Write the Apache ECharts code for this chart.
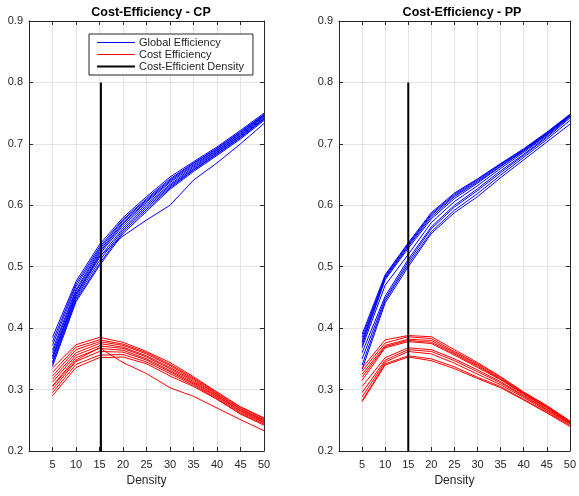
<!DOCTYPE html>
<html>
<head>
<meta charset="utf-8">
<script src="https://cdn.jsdelivr.net/npm/echarts@6/dist/echarts.min.js"></script>
<style>
  html, body { margin: 0; padding: 0; background: #fff; }
  #chart { width: 579px; height: 496px; }
</style>
</head>
<body>
<div id="chart"></div>
<script>
// densities on the x axis
const density = [5, 10, 15, 20, 25, 30, 35, 40, 45, 50];
const yTicks = [0.2, 0.3, 0.4, 0.5, 0.6, 0.7, 0.8, 0.9];

// CP - global efficiency, one row per subject
const globalCP = [
  [0.385, 0.476, 0.536, 0.580, 0.614, 0.646, 0.671, 0.695, 0.722, 0.750],
  [0.378, 0.472, 0.532, 0.577, 0.611, 0.643, 0.669, 0.693, 0.720, 0.748],
  [0.372, 0.468, 0.529, 0.575, 0.609, 0.641, 0.668, 0.692, 0.719, 0.747],
  [0.365, 0.463, 0.526, 0.572, 0.607, 0.639, 0.666, 0.690, 0.717, 0.746],
  [0.360, 0.460, 0.523, 0.570, 0.605, 0.637, 0.664, 0.689, 0.716, 0.745],
  [0.355, 0.456, 0.520, 0.567, 0.602, 0.634, 0.662, 0.687, 0.714, 0.744],
  [0.350, 0.452, 0.515, 0.563, 0.599, 0.632, 0.660, 0.686, 0.713, 0.742],
  [0.345, 0.449, 0.510, 0.560, 0.596, 0.630, 0.658, 0.684, 0.711, 0.741],
  [0.342, 0.446, 0.505, 0.557, 0.593, 0.628, 0.657, 0.683, 0.710, 0.740],
  [0.338, 0.443, 0.502, 0.554, 0.590, 0.626, 0.655, 0.681, 0.708, 0.738],
  [0.352, 0.455, 0.517, 0.550, 0.576, 0.600, 0.641, 0.669, 0.700, 0.733]
];
// CP - cost efficiency
const costCP = [
  [0.335, 0.373, 0.385, 0.377, 0.362, 0.344, 0.321, 0.296, 0.272, 0.254],
  [0.328, 0.369, 0.381, 0.374, 0.360, 0.341, 0.319, 0.295, 0.271, 0.253],
  [0.322, 0.365, 0.378, 0.372, 0.358, 0.339, 0.317, 0.293, 0.269, 0.251],
  [0.317, 0.360, 0.375, 0.369, 0.355, 0.336, 0.315, 0.292, 0.268, 0.250],
  [0.312, 0.356, 0.371, 0.367, 0.353, 0.334, 0.313, 0.290, 0.266, 0.249],
  [0.306, 0.352, 0.367, 0.364, 0.350, 0.331, 0.311, 0.289, 0.265, 0.247],
  [0.300, 0.346, 0.362, 0.361, 0.348, 0.329, 0.309, 0.287, 0.263, 0.246],
  [0.295, 0.341, 0.356, 0.357, 0.345, 0.326, 0.307, 0.285, 0.261, 0.244],
  [0.290, 0.336, 0.352, 0.353, 0.342, 0.322, 0.305, 0.284, 0.260, 0.242],
  [0.305, 0.348, 0.368, 0.344, 0.326, 0.303, 0.289, 0.270, 0.251, 0.233]
];
// PP - global efficiency
const globalPP = [
  [0.390, 0.487, 0.539, 0.588, 0.620, 0.643, 0.668, 0.692, 0.719, 0.748],
  [0.385, 0.485, 0.537, 0.586, 0.618, 0.642, 0.667, 0.691, 0.718, 0.747],
  [0.380, 0.483, 0.535, 0.584, 0.616, 0.640, 0.666, 0.690, 0.717, 0.747],
  [0.376, 0.481, 0.533, 0.581, 0.614, 0.638, 0.664, 0.689, 0.716, 0.746],
  [0.372, 0.479, 0.530, 0.578, 0.611, 0.636, 0.663, 0.688, 0.715, 0.746],
  [0.368, 0.470, 0.520, 0.572, 0.606, 0.632, 0.660, 0.686, 0.714, 0.745],
  [0.360, 0.452, 0.512, 0.565, 0.600, 0.627, 0.656, 0.683, 0.712, 0.744],
  [0.350, 0.448, 0.508, 0.562, 0.597, 0.624, 0.653, 0.681, 0.710, 0.742],
  [0.340, 0.445, 0.504, 0.557, 0.592, 0.619, 0.649, 0.678, 0.707, 0.738],
  [0.333, 0.441, 0.500, 0.554, 0.588, 0.614, 0.645, 0.674, 0.703, 0.732]
];
// PP - cost efficiency
const costPP = [
  [0.335, 0.381, 0.388, 0.386, 0.365, 0.344, 0.321, 0.296, 0.274, 0.249],
  [0.330, 0.376, 0.386, 0.383, 0.362, 0.342, 0.320, 0.295, 0.273, 0.248],
  [0.325, 0.372, 0.382, 0.380, 0.360, 0.340, 0.318, 0.294, 0.272, 0.248],
  [0.320, 0.370, 0.380, 0.377, 0.358, 0.338, 0.317, 0.293, 0.271, 0.247],
  [0.315, 0.368, 0.378, 0.375, 0.356, 0.336, 0.316, 0.292, 0.270, 0.247],
  [0.305, 0.352, 0.368, 0.365, 0.350, 0.332, 0.313, 0.290, 0.268, 0.246],
  [0.295, 0.348, 0.365, 0.362, 0.347, 0.329, 0.311, 0.289, 0.267, 0.245],
  [0.288, 0.345, 0.362, 0.358, 0.343, 0.325, 0.308, 0.287, 0.265, 0.244],
  [0.282, 0.342, 0.355, 0.350, 0.337, 0.320, 0.305, 0.284, 0.263, 0.242],
  [0.280, 0.340, 0.353, 0.347, 0.334, 0.318, 0.303, 0.283, 0.262, 0.240]
];
// cost-efficient density (vertical marker) for each panel
const cedCP = 15.3;
const cedPP = 15;
const cedRange = [0.2, 0.8];

const FONT = 'Liberation Sans, Arial, Helvetica, sans-serif';
const AX = '#262626';

const chart = echarts.init(document.getElementById('chart'));

function xAxes(gridIndex) {
  const base = {
    type: 'value', gridIndex, min: 0, max: 50, interval: 5,
    axisLine: { show: true, onZero: false, lineStyle: { color: AX, width: 1 } },
    axisTick: { show: true, inside: true, length: 4, lineStyle: { color: AX } },
    splitLine: { show: false }
  };
  return [
    Object.assign({}, base, {
      position: 'bottom',
      name: 'Density', nameLocation: 'middle', nameGap: 22,
      nameTextStyle: { fontFamily: FONT, fontSize: 12, color: AX },
      axisLabel: {
        fontFamily: FONT, fontSize: 11, color: AX, margin: 8,
        formatter: v => (v === 0 ? '' : String(v))
      },
      splitLine: { show: true, lineStyle: { color: '#e3e3e3', width: 1 } }
    }),
    Object.assign({}, base, { position: 'top', axisLabel: { show: false } })
  ];
}
function yAxes(gridIndex) {
  const base = {
    type: 'value', gridIndex, min: 0.2, max: 0.9, interval: 0.1,
    axisLine: { show: true, onZero: false, lineStyle: { color: AX, width: 1 } },
    axisTick: { show: true, inside: true, length: 4, lineStyle: { color: AX } },
    splitLine: { show: false }
  };
  return [
    Object.assign({}, base, {
      position: 'left',
      axisLabel: {
        fontFamily: FONT, fontSize: 11, color: AX, margin: 6,
        formatter: v => yTicks.find(t => Math.abs(t - v) < 1e-6).toFixed(1)
      },
      splitLine: { show: true, lineStyle: { color: '#e3e3e3', width: 1 } }
    }),
    Object.assign({}, base, { position: 'right', axisLabel: { show: false } })
  ];
}

function lineSeries(name, rows, color, axisIdx) {
  return rows.map(r => ({
    name, type: 'line', xAxisIndex: axisIdx, yAxisIndex: axisIdx,
    data: density.map((d, i) => [d, r[i]]),
    symbol: 'none', silent: true, animation: false,
    lineStyle: { color, width: 1 }, itemStyle: { color }
  }));
}
function markerSeries(x, axisIdx) {
  return {
    name: 'Cost-Efficient Density', type: 'line', xAxisIndex: axisIdx, yAxisIndex: axisIdx,
    data: cedRange.map(y => [x, y]), symbol: 'none', animation: false,
    lineStyle: { color: '#000', width: 2 }, itemStyle: { color: '#000' }, z: 5
  };
}

const option = {
  backgroundColor: '#fff',
  animation: false,
  title: [
    { text: 'Cost-Efficiency - CP', left: 146, top: 1, textAlign: 'center',
      textStyle: { fontFamily: FONT, fontSize: 12.5, fontWeight: 'bold', color: '#000' } },
    { text: 'Cost-Efficiency - PP', left: 457, top: 1, textAlign: 'center',
      textStyle: { fontFamily: FONT, fontSize: 12.5, fontWeight: 'bold', color: '#000' } }
  ],
  legend: {
    left: 89, top: 34, orient: 'vertical', itemGap: 1,
    itemWidth: 38, itemHeight: 11, padding: [3, 9, 3, 8],
    borderColor: '#262626', borderWidth: 1, backgroundColor: '#fff',
    symbolKeepAspect: true,
    itemStyle: { borderWidth: 0 },
    textStyle: { fontFamily: FONT, fontSize: 11, color: '#262626', padding: [0, 0, 0, -1] },
    data: [
      { name: 'Global Efficiency', icon: 'path://M0,0H38V1H0Z' },
      { name: 'Cost Efficiency', icon: 'path://M0,0H38V1H0Z' },
      { name: 'Cost-Efficient Density', icon: 'path://M0,0H38V2H0Z' }
    ],
    selectedMode: false
  },
  grid: [
    { left: 29, right: 315, top: 21, bottom: 45 },
    { left: 339, right: 3, top: 21, bottom: 45 }
  ],
  xAxis: [...xAxes(0), ...xAxes(1)],
  yAxis: [...yAxes(0), ...yAxes(1)],
  series: [
    ...lineSeries('Global Efficiency', globalCP, '#0000ff', 0),
    ...lineSeries('Cost Efficiency', costCP, '#ff0000', 0),
    markerSeries(cedCP, 0),
    ...lineSeries('Global Efficiency', globalPP, '#0000ff', 2),
    ...lineSeries('Cost Efficiency', costPP, '#ff0000', 2),
    markerSeries(cedPP, 2)
  ]
};
chart.setOption(option);
</script>
</body>
</html>
